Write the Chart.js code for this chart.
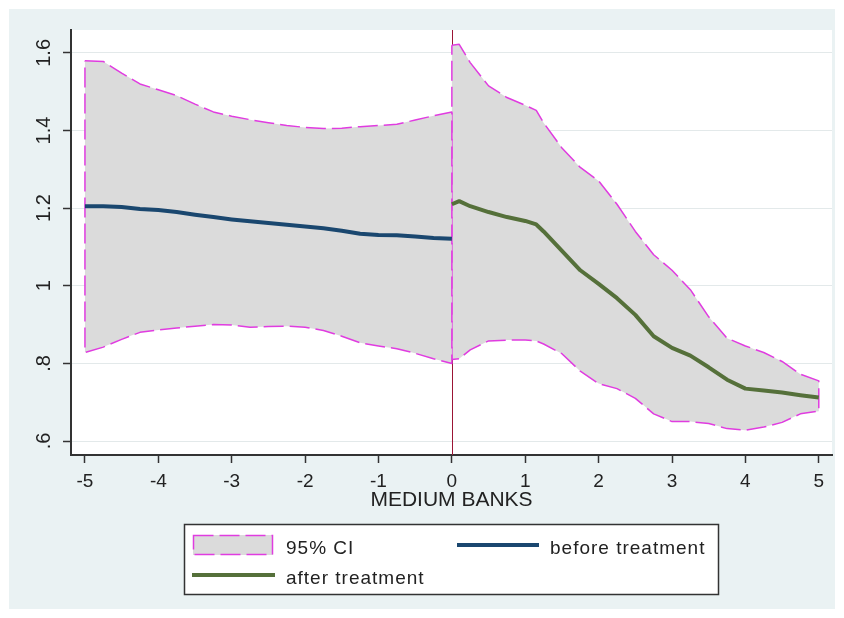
<!DOCTYPE html>
<html><head><meta charset="utf-8">
<script src="https://cdn.jsdelivr.net/npm/chart.js@4/dist/chart.umd.min.js"></script>
<style>
html,body{margin:0;padding:0;background:#ffffff;}
#wrap{position:relative;width:844px;height:618px;}
canvas{display:block;}
</style></head><body>
<div id="wrap"><canvas id="c" width="844" height="618"></canvas></div>
<script>
// ---- data ----
const xBefore = [-5,-4.75,-4.5,-4.25,-4,-3.75,-3.5,-3.25,-3,-2.75,-2.5,-2.25,-2,-1.75,-1.5,-1.25,-1,-0.75,-0.5,-0.25,0];
const beforeTreatment = [1.205,1.205,1.203,1.198,1.195,1.190,1.183,1.177,1.171,1.166,1.162,1.157,1.153,1.148,1.142,1.134,1.131,1.130,1.127,1.123,1.121];
const ciBeforeUpper = [1.580,1.578,1.548,1.520,1.505,1.490,1.468,1.448,1.437,1.428,1.420,1.413,1.408,1.405,1.406,1.410,1.413,1.416,1.427,1.438,1.448];
const ciBeforeLower = [0.828,0.842,0.862,0.880,0.886,0.891,0.896,0.900,0.899,0.893,0.895,0.896,0.893,0.885,0.870,0.853,0.845,0.838,0.826,0.812,0.800];

const xAfter = [0,0.1,0.25,0.5,0.75,1,1.15,1.25,1.5,1.75,2,2.25,2.5,2.75,3,3.25,3.5,3.75,4,4.25,4.5,4.75,5];
const afterTreatment = [1.210,1.218,1.205,1.190,1.177,1.167,1.158,1.140,1.090,1.040,1.005,0.968,0.925,0.870,0.840,0.820,0.790,0.758,0.735,0.730,0.725,0.718,0.712];
const ciAfterUpper = [1.620,1.622,1.575,1.515,1.485,1.465,1.452,1.420,1.355,1.305,1.270,1.210,1.140,1.080,1.040,0.990,0.920,0.865,0.845,0.828,0.805,0.772,0.755];
const ciAfterLower = [0.810,0.812,0.835,0.858,0.860,0.860,0.858,0.850,0.825,0.780,0.748,0.735,0.710,0.670,0.650,0.650,0.645,0.632,0.628,0.636,0.648,0.670,0.677];

const xTicks = [-5,-4,-3,-2,-1,0,1,2,3,4,5];
const xTickLabels = ['-5','-4','-3','-2','-1','0','1','2','3','4','5'];
const yTicks = [0.6,0.8,1.0,1.2,1.4,1.6];
const yTickLabels = ['.6','.8','1','1.2','1.4','1.6'];
const xTitle = 'MEDIUM BANKS';
const legendLabels = ['95% CI','before treatment','after treatment'];
const treatmentLineAt = 0;

// ---- helpers ----
const pts = (xs, ys) => xs.map((x, i) => ({x: x, y: ys[i]}));
const band = (xs, up, lo) => {
  const p = pts(xs, up);
  const l = pts(xs, lo).reverse();
  return p.concat(l, [p[0]]);
};

const FONT = "'Liberation Sans', Arial, Helvetica, sans-serif";
const C_BG = '#eaf2f3';
const C_CI_FILL = '#dbdbdb';
const C_CI_LINE = '#e03ce0';
const C_BEFORE = '#1a476f';
const C_AFTER = '#55703a';
const C_XLINE = '#9b1535';
const C_AXIS = '#333333';
const C_TEXT = '#222222';

const bgPlugin = {
  id: 'bg',
  beforeDraw(chart) {
    const ctx = chart.ctx, a = chart.chartArea;
    ctx.save();
    ctx.fillStyle = C_BG;
    ctx.fillRect(9, 9, chart.width - 18, chart.height - 18);
    ctx.fillStyle = '#ffffff';
    ctx.fillRect(a.left, a.top, a.right - a.left, a.bottom - a.top);
    ctx.restore();
  },
  beforeDatasetsDraw(chart) {
    const ctx = chart.ctx, a = chart.chartArea;
    const x = Math.round(chart.scales.x.getPixelForValue(treatmentLineAt)) + 0.5;
    ctx.save();
    ctx.strokeStyle = C_XLINE;
    ctx.lineWidth = 1;
    ctx.beginPath();
    ctx.moveTo(x, a.top);
    ctx.lineTo(x, a.bottom);
    ctx.stroke();
    ctx.restore();
  }
};

const legendPlugin = {
  id: 'stataLegend',
  afterDraw(chart) {
    const ctx = chart.ctx;
    ctx.save();
    // box
    ctx.fillStyle = '#ffffff';
    ctx.fillRect(184, 524, 535, 70);
    ctx.strokeStyle = C_AXIS;
    ctx.lineWidth = 1.5;
    ctx.strokeRect(184.5, 524.5, 534, 70);
    // CI swatch
    ctx.fillStyle = C_CI_FILL;
    ctx.fillRect(193, 535, 80, 20);
    ctx.strokeStyle = C_CI_LINE;
    ctx.lineWidth = 1.5;
    ctx.setLineDash([20, 6]);
    ctx.strokeRect(193.5, 535.5, 79, 19);
    ctx.setLineDash([]);
    // line swatches
    ctx.lineWidth = 4;
    ctx.strokeStyle = C_BEFORE;
    ctx.beginPath(); ctx.moveTo(457, 545); ctx.lineTo(539, 545); ctx.stroke();
    ctx.strokeStyle = C_AFTER;
    ctx.beginPath(); ctx.moveTo(192, 575); ctx.lineTo(275, 575); ctx.stroke();
    // text
    ctx.fillStyle = C_TEXT;
    ctx.font = '19px ' + FONT;
    ctx.textBaseline = 'alphabetic';
    ctx.textAlign = 'left';
    try { ctx.letterSpacing = '1px'; } catch (e) {}
    ctx.fillText(legendLabels[0], 286, 554);
    ctx.fillText(legendLabels[1], 550, 554);
    ctx.fillText(legendLabels[2], 286, 584);
    ctx.restore();
  }
};

new Chart(document.getElementById('c'), {
  type: 'line',
  data: {
    datasets: [
      { label: legendLabels[1], data: pts(xBefore, beforeTreatment), borderColor: C_BEFORE, borderWidth: 4, pointRadius: 0, fill: false, tension: 0, order: 0 },
      { label: legendLabels[2], data: pts(xAfter, afterTreatment), borderColor: C_AFTER, borderWidth: 4, pointRadius: 0, fill: false, tension: 0, order: 0 },
      { label: legendLabels[0], data: band(xBefore, ciBeforeUpper, ciBeforeLower), borderColor: C_CI_LINE, backgroundColor: C_CI_FILL, borderWidth: 1.5, borderDash: [20, 6], pointRadius: 0, fill: 'shape', tension: 0, order: 1 },
      { label: legendLabels[0] + ' ', data: band(xAfter, ciAfterUpper, ciAfterLower), borderColor: C_CI_LINE, backgroundColor: C_CI_FILL, borderWidth: 1.5, borderDash: [20, 6], pointRadius: 0, fill: 'shape', tension: 0, order: 1 }
    ]
  },
  options: {
    responsive: false,
    animation: false,
    devicePixelRatio: 1,
    layout: { padding: { left: 0, right: 12, top: 30, bottom: 0 } },
    plugins: { legend: { display: false }, tooltip: { enabled: false } },
    elements: { line: { borderCapStyle: 'butt', borderJoinStyle: 'round' } },
    scales: {
      x: {
        type: 'linear', min: -5.19, max: 5.18,
        afterBuildTicks: s => { s.ticks = xTicks.map(v => ({ value: v })); },
        afterFit: s => { s.height = 163; },
        grid: { drawOnChartArea: false, drawTicks: true, tickLength: 8, tickColor: C_AXIS, tickWidth: 1.5 },
        border: { display: true, color: C_AXIS, width: 2 },
        ticks: { color: C_TEXT, font: { family: FONT, size: 19 }, padding: 7, maxRotation: 0, autoSkip: false, callback: (v, i) => xTickLabels[i] },
        title: { display: true, text: xTitle, color: C_TEXT, font: { family: FONT, size: 21 }, padding: { top: 0, bottom: 105 } }
      },
      y: {
        type: 'linear', min: 0.564, max: 1.659,
        afterBuildTicks: s => { s.ticks = yTicks.map(v => ({ value: v })); },
        afterFit: s => { s.width = 71; },
        grid: { color: '#e3e9ea', lineWidth: 1, drawTicks: true, tickLength: 8, tickColor: C_AXIS, tickWidth: 1.5 },
        border: { display: true, color: C_AXIS, width: 2 },
        ticks: { color: C_TEXT, font: { family: FONT, size: 20 }, padding: 5, minRotation: 90, maxRotation: 90, crossAlign: 'center', autoSkip: false, callback: (v, i) => yTickLabels[i] }
      }
    }
  },
  plugins: [bgPlugin, legendPlugin]
});
</script>
</body></html>
